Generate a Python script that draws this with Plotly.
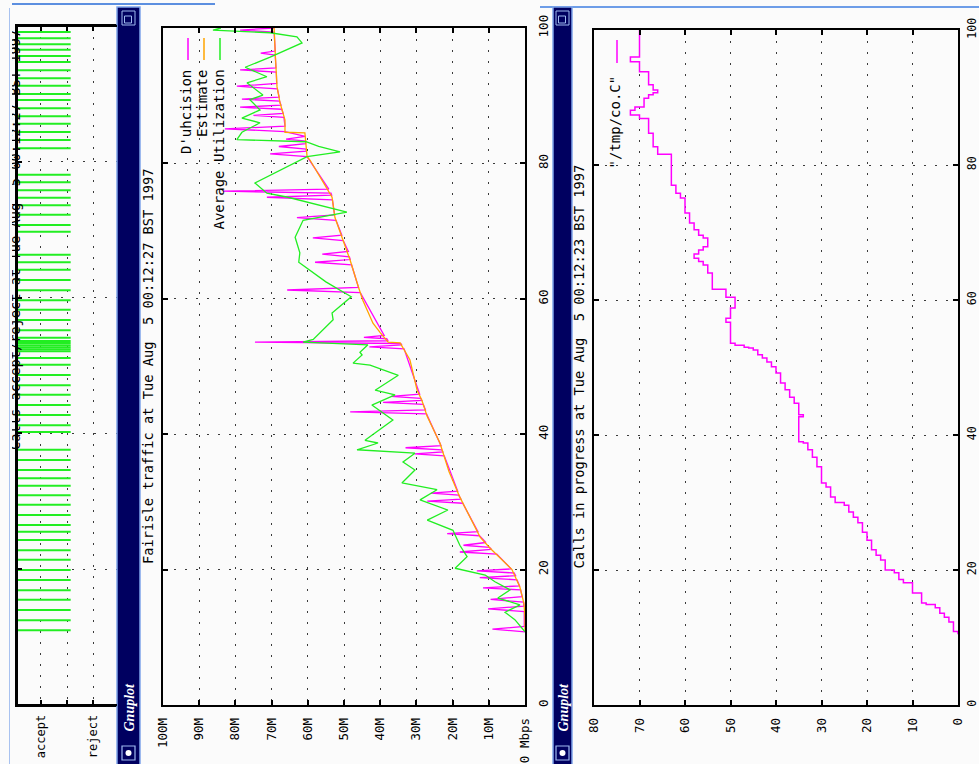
import plotly.graph_objects as go

W, H = 979, 764

# ---------------- data ----------------
# Left window: times (s) of accepted calls
accept_times = [11.0, 12.5, 14.0, 15.5, 16.9, 18.4, 19.9, 21.4, 22.8, 24.3, 25.5, 26.5,
                28.0, 29.5, 30.9, 32.3, 33.4, 34.6, 36.1, 37.6, 40.2, 41.2, 42.7,
                44.2, 45.7, 47.1, 48.6, 50.1, 51.1, 52.1, 52.4, 52.7, 53.0, 53.3,
                53.6, 54.1, 55.2, 56.7, 58.2, 59.6, 61.1, 62.6, 64.1, 65.2, 66.3,
                69.7, 70.7, 72.2, 73.6, 74.7, 75.8, 77.0, 78.1, 82.0, 83.2, 84.4,
                85.6, 86.7, 87.9, 89.1, 90.0, 91.2, 92.3, 93.5, 94.7, 95.6, 96.5,
                97.3, 98.2, 99.1]
accept_level = [1.45, 0.43]            # extent of each accept mark (axis units)
accept_ticks = [1, 0.5, 0]
accept_ticktext = ["accept", "", "reject"]

# Middle window: Fairisle traffic (time s, Mbps)
dec_t = [10.8, 11.2, 11.6, 13.8, 14.2, 14.6, 15.2, 15.6, 16.0, 17.0, 17.3, 17.6, 18.5, 18.8,
         19.1, 19.5, 19.8, 20.1, 22.3, 22.6, 23.0, 23.3, 23.6, 24.0, 25.0, 25.3, 25.6, 29.8,
         30.1, 30.4, 31.0, 31.3, 31.6, 36.8, 37.1, 37.4, 37.7, 38.0, 38.3, 43.0, 43.3, 43.6,
         44.4, 44.7, 45.0, 45.3, 45.6, 45.9, 52.6, 52.9, 53.2, 53.4, 53.6, 53.8, 54.1, 54.3,
         54.6, 60.9, 61.3, 61.7, 65.0, 65.4, 65.8, 66.2, 66.6, 67.0, 68.6, 69.0, 69.4, 71.6,
         72.0, 72.4, 74.6, 75.0, 75.3, 75.6, 75.9, 76.2, 81.0, 81.4, 81.8, 82.1, 82.5, 82.9,
         83.3, 83.6, 84.0, 84.7, 85.1, 85.5, 86.8, 87.1, 87.4, 88.0, 88.3, 88.6, 89.2, 89.5,
         89.8, 91.0, 91.4, 91.8, 93.5, 93.8, 94.1, 96.0, 96.3, 96.6, 99.4, 99.7, 100.0]
dec_v = [0.0, 9.0, 0.2, 0.2, 10.2, 0.3, 0.4, 9.5, 0.8, 1.2, 11.6, 1.5, 2.2, 12.5,
         2.6, 3.0, 13.3, 3.8, 7.8, 18.0, 9.3, 9.8, 17.0, 10.8, 12.6, 21.5, 13.0, 17.2,
         27.0, 17.7, 18.3, 26.0, 18.6, 22.3, 30.5, 22.7, 23.0, 33.0, 23.2, 27.2, 48.3, 27.5,
         28.1, 39.2, 28.5, 28.8, 37.0, 29.1, 33.4, 43.0, 34.0, 34.4, 74.6, 37.8, 38.2, 44.5,
         38.9, 45.5, 65.7, 46.0, 47.9, 58.0, 48.3, 48.5, 56.0, 48.8, 50.2, 58.6, 50.6, 52.2,
         63.0, 52.6, 53.2, 71.3, 53.4, 53.6, 83.4, 54.2, 60.2, 70.4, 60.4, 60.5, 68.0, 60.6,
         60.6, 66.0, 60.7, 66.3, 82.9, 66.3, 66.6, 75.0, 66.8, 67.2, 78.7, 67.4, 67.8, 78.2,
         67.9, 68.4, 79.6, 68.6, 68.7, 78.7, 68.8, 69.0, 73.0, 69.0, 69.3, 78.7, 69.3]

est_t = [10.8, 13.0, 15.0, 17.4, 20.0, 23.2, 24.8, 27.5, 30.7, 34.5, 38.7, 42.6, 45.0, 46.5,
         49.0, 51.0, 53.5, 53.6, 55.0, 56.4, 59.8, 61.7, 65.7, 69.1, 72.0, 75.0, 78.0, 80.5,
         81.0, 84.5, 84.6, 86.4, 89.0, 91.3, 96.3, 100.0]
est_v = [0.0, 0.0, 0.3, 1.4, 3.6, 9.7, 12.4, 15.0, 18.0, 21.0, 23.5, 27.0, 28.5, 29.8,
         30.8, 31.8, 34.5, 37.8, 40.0, 42.0, 44.8, 46.0, 48.3, 50.5, 52.5, 53.3, 56.6, 59.4,
         60.2, 60.8, 66.3, 66.3, 67.7, 68.5, 69.0, 69.3]

util_t = [10.8, 12.6, 13.7, 14.8, 15.8, 17.0, 18.2, 19.2, 20.2, 21.9, 23.6, 25.8, 27.3, 28.8,
          30.3, 31.8, 32.8, 34.7, 35.9, 37.2, 37.7, 38.7, 39.1, 42.1, 44.3, 45.8, 46.5, 48.7,
          50.2, 50.5, 51.7, 52.1, 53.2, 53.6, 54.0, 56.9, 57.9, 59.8, 60.3, 62.5, 65.4, 66.8,
          69.1, 71.6, 72.8, 75.0, 75.6, 77.1, 81.0, 81.7, 82.5, 83.2, 83.5, 84.6, 86.0, 86.7,
          87.9, 89.4, 90.1, 91.9, 92.8, 94.2, 95.7, 97.8, 98.7, 99.3, 99.7, 100.0]
util_v = [0.0, 2.8, 5.5, 1.4, 7.5, 4.1, 8.3, 11.0, 19.3, 16.0, 18.0, 19.9, 27.0, 21.3,
          29.0, 24.3, 34.0, 30.4, 33.7, 30.4, 46.4, 40.6, 44.2, 36.5, 42.3, 35.9, 41.4, 35.0,
          42.8, 47.5, 45.0, 45.6, 43.4, 61.3, 58.5, 53.0, 53.3, 49.2, 48.0, 55.0, 62.5, 62.2,
          63.5, 61.3, 49.2, 65.5, 71.3, 74.6, 60.2, 51.1, 57.0, 60.5, 79.6, 78.2, 73.2, 78.2,
          73.2, 76.0, 72.4, 76.8, 71.3, 77.3, 70.4, 61.6, 63.0, 70.4, 86.2, 84.0]

mbps_ticks = [0, 10, 20, 30, 40, 50, 60, 70, 80, 90, 100]
mbps_labels = ["0 Mbps", "10M", "20M", "30M", "40M", "50M", "60M", "70M", "80M", "90M", "100M"]
time_ticks = [0, 20, 40, 60, 80, 100]

# Right window: calls in progress (time s, count) - value after each change
calls_t = [10.5, 10.9, 12.3, 13.0, 13.6, 14.4, 14.9, 15.1, 16.6, 18.1, 18.6, 19.6, 20.0, 21.5,
           22.2, 23.0, 24.4, 25.6, 27.0, 27.8, 28.6, 29.6, 30.0, 30.8, 32.3, 32.9, 35.3, 36.7,
           37.8, 38.8, 39.0, 42.7, 43.0, 44.7, 45.6, 46.7, 47.7, 49.2, 50.1, 50.8, 51.4, 51.9,
           52.6, 52.9, 53.0, 53.3, 53.6, 56.7, 57.3, 58.8, 60.4, 61.6, 64.0, 65.2, 65.7, 66.2,
           66.8, 67.4, 67.9, 69.2, 69.6, 70.4, 71.4, 72.9, 75.1, 75.8, 77.0, 81.6, 82.7, 84.7,
           86.9, 87.4, 88.1, 88.6, 89.9, 90.4, 90.7, 91.1, 91.9, 93.8, 95.3, 96.0, 100.0]
calls_v = [0, 1, 2, 3, 4, 5, 7, 8, 10, 12, 13, 14, 16, 17,
           18, 19, 20, 21, 22, 23, 24, 25, 27, 28, 29, 30, 31, 32,
           33, 34, 35, 34, 35, 36, 37, 38, 39, 40, 41, 42, 43, 44,
           45, 46, 47, 49, 50, 51, 50, 49, 51, 54, 55, 56, 57, 58,
           57, 56, 55, 56, 57, 58, 59, 60, 61, 62, 63, 66, 67, 68,
           70, 72, 71, 69, 68, 67, 66, 67, 68, 70, 72, 70, 70]
calls_ticks = [0, 10, 20, 30, 40, 50, 60, 70, 80]

MAGENTA = "#ff00ff"
ORANGE = "#ffa500"
GREEN = "#22ee22"
NAVY = "#000060"
LBLUE = "#7fa4ea"
BG = "#fbfbfb"
MONO = "DejaVu Sans Mono, Liberation Mono, monospace"


def px(x):
    return x / W


def py(y):
    return 1 - y / H


fig = go.Figure()

# left panel accept marks
seg_x, seg_y = [], []
for t in accept_times:
    seg_x += [accept_level[0], accept_level[1], None]
    seg_y += [t, t, None]
fig.add_trace(go.Scatter(x=seg_x, y=seg_y, mode="lines", line=dict(color=GREEN, width=2),
                         xaxis="x", yaxis="y", hoverinfo="skip"))

# middle panel
fig.add_trace(go.Scatter(x=dec_v, y=dec_t, mode="lines", line=dict(color=MAGENTA, width=1.3),
                         xaxis="x2", yaxis="y2", name="D'uhcision"))
fig.add_trace(go.Scatter(x=est_v, y=est_t, mode="lines", line=dict(color=ORANGE, width=1.3),
                         xaxis="x2", yaxis="y2", name="Estimate"))
fig.add_trace(go.Scatter(x=util_v, y=util_t, mode="lines", line=dict(color=GREEN, width=1.3),
                         xaxis="x2", yaxis="y2", name="Average Utilization"))

# right panel
fig.add_trace(go.Scatter(x=calls_v, y=calls_t, mode="lines", line=dict(color=MAGENTA, width=1.5, shape="vh"),
                         xaxis="x3", yaxis="y3", name='"/tmp/co.C"'))

common = dict(showline=True, linecolor="black", linewidth=2, ticks="inside", ticklen=5,
              tickwidth=1.5, tickcolor="black", showgrid=True, gridcolor="#3a3a3a",
              gridwidth=1.2, griddash="2px,9px", zeroline=False, automargin=False,
              tickfont=dict(family=MONO, size=12.5, color="black"), tickangle=-90,
              ticklabelstandoff=6, fixedrange=True)

fig.update_layout(
    template="none",
    width=W, height=H, margin=dict(l=0, r=0, t=0, b=0, pad=0), autosize=False,
    paper_bgcolor=BG, plot_bgcolor=BG, showlegend=False,
    xaxis=dict(common, domain=[px(17), px(117)], range=[1.45, -0.45], tickvals=accept_ticks,
               ticktext=accept_ticktext, anchor="y", mirror="ticks", ticklabelstandoff=3,
               tickfont=dict(family=MONO, size=12, color="black")),
    yaxis=dict(common, domain=[py(705), py(26)], range=[0, 100], tickvals=time_ticks,
               showticklabels=False, anchor="x", side="left", mirror=False),
    xaxis2=dict(common, domain=[px(163), px(525)], range=[100, 0], tickvals=mbps_ticks,
                ticktext=mbps_labels, anchor="y2", mirror="ticks"),
    yaxis2=dict(common, domain=[py(705), py(28)], range=[0, 100], tickvals=time_ticks,
                anchor="x2", side="right", mirror="ticks"),
    xaxis3=dict(common, domain=[px(594), px(958)], range=[80, 0], tickvals=calls_ticks,
                anchor="y3", mirror="ticks"),
    yaxis3=dict(common, domain=[py(705), py(30)], range=[0, 100], tickvals=time_ticks,
                anchor="x3", side="right", mirror="ticks", ticklabelstandoff=2,
                tickfont=dict(family=MONO, size=11.5, color="black")),
)

shapes = []


def rect(x0, y0, x1, y1, fill=None, line=None, lw=1.0):
    shapes.append(dict(type="rect", xref="paper", yref="paper", x0=px(x0), x1=px(x1),
                       y0=py(y1), y1=py(y0), fillcolor=fill if fill else "rgba(0,0,0,0)",
                       line=dict(color=line if line else "rgba(0,0,0,0)", width=lw), layer="above"))


def seg(x0, y0, x1, y1, color, lw):
    shapes.append(dict(type="line", xref="paper", yref="paper", x0=px(x0), x1=px(x1),
                       y0=py(y0), y1=py(y1), line=dict(color=color, width=lw), layer="above"))


# screen edges
seg(0, 4, 215, 4, "#5c8fe0", 2)
seg(540, 7, 979, 7, "#6d9de8", 2)

# window title bars (vertical)
for (x0, x1) in [(117, 140), (553, 572)]:
    rect(x0, 7, x1, 766, fill=NAVY, line=LBLUE, lw=1.5)
    cx = (x0 + x1) / 2
    rect(cx - 6.5, 11, cx + 6.5, 25, line="#9fbaf0", lw=1)
    rect(cx - 4, 16, cx + 3, 23, line="#9fbaf0", lw=1)
    rect(cx - 6.5, 746, cx + 6.5, 760, line="#9fbaf0", lw=1.2)
    shapes.append(dict(type="circle", xref="paper", yref="paper", x0=px(cx - 3), x1=px(cx + 3),
                       y0=py(756), y1=py(750), fillcolor="white", line=dict(color="white", width=0),
                       layer="above"))

# legend samples
seg(188, 38, 188, 60, MAGENTA, 1.5)
seg(204, 38, 204, 60, ORANGE, 1.5)
seg(220, 38, 220, 60, GREEN, 1.5)
seg(617, 40, 617, 63, MAGENTA, 1.5)

fig.update_layout(shapes=shapes)

ann = []


def text(x, y, s, size=13.7, color="black", family=MONO, yanchor="middle", **kw):
    ann.append(dict(xref="paper", yref="paper", x=px(x), y=py(y), text=s, showarrow=False,
                    textangle=-90, xanchor="center", yanchor=yanchor,
                    font=dict(family=family, size=size, color=color), **kw))


text(15, 240, "Calls accept/reject at Tue Aug\u00a0 5 00:12:27 BST 1997")
# cover the part of the left title that lies beyond the window edge
ann.append(dict(xref="paper", yref="paper", x=px(0), y=py(300), text=" ", showarrow=False,
                width=24, height=620, bgcolor=BG, borderpad=0, borderwidth=0,
                xanchor="center", yanchor="middle"))
# thin light-blue screen edge on the far left
ann.append(dict(xref="paper", yref="paper", x=px(9), y=py(386), text=" ", showarrow=False,
                width=1, height=756, bgcolor="#a8c2f0", borderpad=0, borderwidth=0,
                xanchor="center", yanchor="middle"))

# frame of the left (partly hidden) window, drawn on its axis domain (above the cover)
for d in [dict(x0=0, x1=0, y0=0, y1=1), dict(x0=0, x1=1, y0=0, y1=0), dict(x0=0, x1=1, y0=1, y1=1)]:
    shapes.append(dict(type="line", xref="x domain", yref="y domain", line=dict(color="black", width=2),
                       layer="above", **d))
fig.update_layout(shapes=shapes)

text(148, 366, "Fairisle traffic at Tue Aug\u00a0 5 00:12:27 BST 1997")
text(578.5, 367, "Calls in progress at Tue Aug\u00a0 5 00:12:23 BST 1997")

text(186, 68, "D'uhcision", size=14, yanchor="top")
text(201.5, 68, "Estimate", size=14, yanchor="top")
text(218.5, 68, "Average Utilization", size=14, yanchor="top")
text(615, 74, '"/tmp/co.C"', size=14, yanchor="top")

for cx in [128.5, 562.5]:
    text(cx, 707, "<b><i>Gnuplot</i></b>", size=14, color="white",
         family="Liberation Serif, DejaVu Serif, serif")

fig.update_layout(annotations=ann)

fig.write_html(
    "out.html",
    config={"displayModeBar": False},
    post_script="document.body.style.margin='0';document.body.style.padding='0';"
                "document.body.style.overflow='hidden';"
                "document.documentElement.style.overflow='hidden';",
)
